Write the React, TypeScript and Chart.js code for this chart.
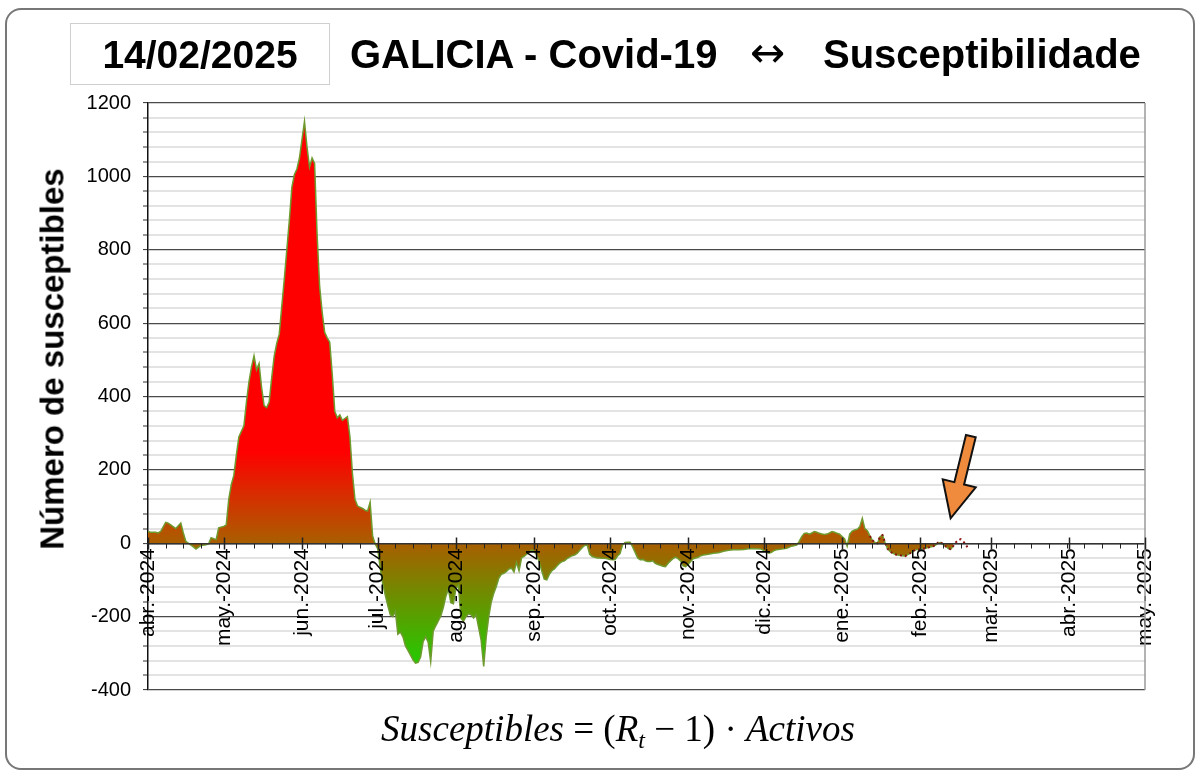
import React, { useEffect, useRef } from "react";
import { Chart, registerables } from "chart.js";
Chart.register(...registerables);

// ---------- DATA ----------
const dates = [
  "2024-04-01","2024-04-02","2024-04-04","2024-04-05","2024-04-06","2024-04-08","2024-04-09","2024-04-10","2024-04-12","2024-04-14","2024-04-15","2024-04-16","2024-04-18","2024-04-19","2024-04-20","2024-04-22","2024-04-24","2024-04-25","2024-04-26","2024-04-28","2024-04-29",
  "2024-05-01","2024-05-02","2024-05-03","2024-05-04","2024-05-05","2024-05-06","2024-05-07","2024-05-08","2024-05-09","2024-05-10","2024-05-11","2024-05-12","2024-05-13","2024-05-14","2024-05-15","2024-05-16","2024-05-17","2024-05-18","2024-05-19","2024-05-20","2024-05-21","2024-05-22","2024-05-23","2024-05-24","2024-05-25","2024-05-26","2024-05-27","2024-05-28","2024-05-29","2024-05-30","2024-05-31",
  "2024-06-01","2024-06-02","2024-06-03","2024-06-04","2024-06-05","2024-06-06","2024-06-07","2024-06-08","2024-06-09","2024-06-10","2024-06-11","2024-06-12","2024-06-13","2024-06-14","2024-06-15","2024-06-16","2024-06-17","2024-06-18","2024-06-19","2024-06-20","2024-06-21","2024-06-22","2024-06-23","2024-06-24","2024-06-25","2024-06-26","2024-06-27","2024-06-28","2024-06-29","2024-06-30",
  "2024-07-01","2024-07-02","2024-07-03","2024-07-04","2024-07-05","2024-07-06","2024-07-07","2024-07-08","2024-07-09","2024-07-10","2024-07-11","2024-07-12","2024-07-13","2024-07-14","2024-07-15","2024-07-16","2024-07-17","2024-07-18","2024-07-19","2024-07-20","2024-07-21","2024-07-22","2024-07-23","2024-07-24","2024-07-25","2024-07-26","2024-07-27","2024-07-28","2024-07-29","2024-07-30","2024-07-31",
  "2024-08-01","2024-08-02","2024-08-03","2024-08-04","2024-08-05","2024-08-06","2024-08-07","2024-08-08","2024-08-09","2024-08-10","2024-08-11","2024-08-12","2024-08-13","2024-08-14","2024-08-15","2024-08-16","2024-08-17","2024-08-18","2024-08-19","2024-08-20","2024-08-21","2024-08-22","2024-08-23","2024-08-24","2024-08-25","2024-08-26","2024-08-27","2024-08-28","2024-08-29","2024-08-30","2024-08-31",
  "2024-09-01","2024-09-02","2024-09-03","2024-09-04","2024-09-05","2024-09-06","2024-09-07","2024-09-08","2024-09-09","2024-09-10","2024-09-11","2024-09-12","2024-09-13","2024-09-14","2024-09-15","2024-09-16","2024-09-17","2024-09-18","2024-09-19","2024-09-20","2024-09-21","2024-09-22","2024-09-23","2024-09-24","2024-09-25","2024-09-26","2024-09-27","2024-09-28","2024-09-29","2024-09-30",
  "2024-10-01","2024-10-02","2024-10-03","2024-10-04","2024-10-05","2024-10-06","2024-10-07","2024-10-08","2024-10-09","2024-10-10","2024-10-11","2024-10-12","2024-10-13","2024-10-14","2024-10-15","2024-10-16","2024-10-17","2024-10-18","2024-10-19","2024-10-20","2024-10-21","2024-10-22","2024-10-23","2024-10-24","2024-10-25","2024-10-26","2024-10-27","2024-10-28","2024-10-29","2024-10-30","2024-10-31",
  "2024-11-01","2024-11-02","2024-11-03","2024-11-04","2024-11-05","2024-11-06","2024-11-07","2024-11-09","2024-11-11","2024-11-13","2024-11-15","2024-11-17","2024-11-19","2024-11-21","2024-11-23","2024-11-25","2024-11-27","2024-11-30",
  "2024-12-01","2024-12-02","2024-12-03","2024-12-04","2024-12-05","2024-12-06","2024-12-08","2024-12-10","2024-12-12","2024-12-14","2024-12-15","2024-12-16","2024-12-17","2024-12-18","2024-12-19","2024-12-20","2024-12-21","2024-12-22","2024-12-23","2024-12-24","2024-12-25","2024-12-26","2024-12-27","2024-12-28","2024-12-29","2024-12-30","2024-12-31",
  "2025-01-01","2025-01-02","2025-01-03","2025-01-04","2025-01-05","2025-01-06","2025-01-07","2025-01-08","2025-01-09","2025-01-10","2025-01-11","2025-01-12","2025-01-13","2025-01-14","2025-01-15","2025-01-16","2025-01-17","2025-01-18","2025-01-19","2025-01-20","2025-01-21","2025-01-22","2025-01-23","2025-01-24","2025-01-25","2025-01-26","2025-01-27","2025-01-28","2025-01-29","2025-01-30","2025-01-31",
  "2025-02-01","2025-02-02","2025-02-03","2025-02-04","2025-02-05","2025-02-06","2025-02-07","2025-02-08","2025-02-09","2025-02-10","2025-02-11","2025-02-12","2025-02-13","2025-02-14",
];
const susceptibles = [
  32,30,30,28,32,57,55,50,40,55,28,5,-5,-10,-16,-6,-4,-2,15,10,42,
  46,50,120,160,185,240,290,305,320,385,440,480,511,473,490,425,375,370,385,450,510,545,570,645,720,800,880,970,1005,1020,1050,
  1100,1150,1080,1025,1050,1035,840,700,630,575,560,548,460,360,342,350,335,340,345,290,190,120,102,98,95,90,88,112,20,-2,
  -15,-68,-110,-141,-170,-195,-200,-186,-248,-242,-255,-280,-292,-305,-318,-327,-325,-310,-268,-255,-270,-323,-240,-225,-212,-198,-175,-145,-125,-162,-165,
  -123,-115,-205,-212,-200,-192,-195,-204,-195,-230,-265,-336,-255,-200,-160,-136,-118,-95,-85,-82,-77,-70,-68,-78,-52,-75,-40,-36,-30,-25,-18,
  -22,-32,-50,-75,-98,-100,-85,-75,-70,-62,-55,-50,-48,-42,-38,-34,-32,-28,-20,-12,-6,-5,-30,-36,-38,-40,-40,-41,-41,-42,
  -44,-45,-45,-35,-28,-5,2,3,3,-10,-25,-40,-45,-44,-48,-50,-50,-48,-55,-58,-60,-63,-64,-55,-48,-42,-38,-42,-48,-62,-64,
  -58,-50,-42,-40,-38,-34,-32,-30,-27,-26,-22,-19,-18,-18,-17,-15,-14,-16,
  -20,-24,-27,-25,-20,-18,-16,-14,-8,-5,5,18,27,28,25,28,32,30,27,25,24,25,28,32,30,27,25,
  18,12,-8,25,33,36,38,45,68,40,34,20,8,2,0,18,22,2,-15,-22,-27,-30,-32,-33,-34,-35,-31,-27,-22,-18,-17,
  -16,-15,-14,-12,-10,-8,-5,0,2,-3,-8,-14,-16,-8,
];
// provisional (dotted) estimate at the end of the series
const provisionalDates = [
  "2025-01-12","2025-01-13","2025-01-14","2025-01-15","2025-01-16","2025-01-17","2025-01-18","2025-01-19","2025-01-20","2025-01-21","2025-01-22","2025-01-23","2025-01-24","2025-01-25","2025-01-26","2025-01-27","2025-01-28","2025-01-29","2025-01-30","2025-01-31",
  "2025-02-01","2025-02-02","2025-02-03","2025-02-04","2025-02-05","2025-02-06","2025-02-07","2025-02-08","2025-02-09","2025-02-10","2025-02-11","2025-02-12","2025-02-13","2025-02-14","2025-02-15","2025-02-16","2025-02-17","2025-02-18","2025-02-19","2025-02-20",
];
const provisionalValues = [
  20,8,2,0,18,22,2,-15,-22,-27,-30,-32,-33,-34,-35,-31,-27,-22,-18,-17,
  -16,-15,-14,-12,-10,-8,-5,2,4,-3,-8,-14,-16,-8,2,9,11,5,-3,-16,
];
const monthTicks = [
  "2024-04-01","2024-05-01","2024-06-01","2024-07-01","2024-08-01","2024-09-01","2024-10-01",
  "2024-11-01","2024-12-01","2025-01-01","2025-02-01","2025-03-01","2025-04-01","2025-05-01",
];
const monthLabels = [
  "abr.-2024","may.-2024","jun.-2024","jul.-2024","ago.-2024","sep.-2024","oct.-2024",
  "nov.-2024","dic.-2024","ene.-2025","feb.-2025","mar.-2025","abr.-2025","may.-2025",
];
const yMin = -400;
const yMax = 1200;
const yMajorStep = 200;
const yMinorStep = 40;
const arrowTip = { date: "2025-02-13", value: 68 };
const arrowTail = { date: "2025-02-21", value: 292 };

const titleDate = "14/02/2025";
const titleMain = "GALICIA - Covid-19";
const titleArrow = "↔";
const titleRight = "Susceptibilidade";
const yTitle = "Número de susceptibles";

// ---------- helpers ----------
const DAY0 = Date.UTC(2024, 3, 1);
const toDay = (s: string) => (Date.parse(s + "T00:00:00Z") - DAY0) / 86400000;
const FONT = "'Liberation Sans', Arial, Helvetica, sans-serif";

const decorPlugin = {
  id: "decor",
  afterDraw(chart: any) {
    const { ctx, chartArea, scales } = chart;
    const xs = scales.x;
    const ys = scales.y;
    const y0 = Math.round(ys.getPixelForValue(0)) + 0.5;
    ctx.save();
    // right frame line
    ctx.strokeStyle = "#9a9a9a";
    ctx.lineWidth = 1.5;
    ctx.beginPath();
    ctx.moveTo(chartArea.right, chartArea.top);
    ctx.lineTo(chartArea.right, chartArea.bottom);
    ctx.stroke();
    // weekly minor ticks + monthly major ticks on the x axis
    ctx.strokeStyle = "#222";
    ctx.lineWidth = 1;
    const maxDay = toDay(monthTicks[monthTicks.length - 1]);
    for (let d = 0; d <= maxDay; d += 7) {
      const px = Math.round(xs.getPixelForValue(d)) + 0.5;
      ctx.beginPath();
      ctx.moveTo(px, y0);
      ctx.lineTo(px, y0 + 5);
      ctx.stroke();
    }
    ctx.lineWidth = 1.5;
    monthTicks.forEach((m) => {
      const px = Math.round(xs.getPixelForValue(toDay(m))) + 0.5;
      ctx.beginPath();
      ctx.moveTo(px, y0 - 6);
      ctx.lineTo(px, y0 + 6);
      ctx.stroke();
    });
    // arrow annotation
    const tx = xs.getPixelForValue(toDay(arrowTip.date));
    const ty = ys.getPixelForValue(arrowTip.value);
    const sx = xs.getPixelForValue(toDay(arrowTail.date));
    const sy = ys.getPixelForValue(arrowTail.value);
    const len = Math.hypot(tx - sx, ty - sy);
    const ux = (tx - sx) / len, uy = (ty - sy) / len;
    const nx = -uy, ny = ux;
    const headLen = 36, headHalf = 17, shaftHalf = 5;
    const bx = tx - ux * headLen, by = ty - uy * headLen;
    ctx.beginPath();
    ctx.moveTo(sx + nx * shaftHalf, sy + ny * shaftHalf);
    ctx.lineTo(bx + nx * shaftHalf, by + ny * shaftHalf);
    ctx.lineTo(bx + nx * headHalf, by + ny * headHalf);
    ctx.lineTo(tx, ty);
    ctx.lineTo(bx - nx * headHalf, by - ny * headHalf);
    ctx.lineTo(bx - nx * shaftHalf, by - ny * shaftHalf);
    ctx.lineTo(sx - nx * shaftHalf, sy - ny * shaftHalf);
    ctx.closePath();
    ctx.fillStyle = "#f08a3c";
    ctx.fill();
    ctx.strokeStyle = "#111";
    ctx.lineWidth = 2;
    ctx.lineJoin = "miter";
    ctx.stroke();
    ctx.restore();
  },
};

export default function App() {
  const canvasRef = useRef<HTMLCanvasElement | null>(null);

  useEffect(() => {
    const canvas = canvasRef.current;
    if (!canvas) return;
    Chart.defaults.font.family = FONT;
    const chart = new Chart(canvas, {
      type: "line",
      data: {
        datasets: [
          {
            label: "Susceptibles",
            data: dates.map((d, i) => ({ x: toDay(d), y: susceptibles[i] })),
            fill: "origin",
            backgroundColor: (c: any) => {
              const ch = c.chart;
              if (!ch.chartArea) return "rgba(0,0,0,0)";
              const y1 = ch.scales.y.getPixelForValue(250);
              const y2 = ch.scales.y.getPixelForValue(-330);
              const g = ch.ctx.createLinearGradient(0, y1, 0, y2);
              g.addColorStop(0, "#ff0000");
              g.addColorStop(0.38, "#b45400");
              g.addColorStop(1, "#22cc00");
              return g;
            },
            borderColor: "#6e9a2e",
            borderWidth: 1.5,
            pointRadius: 0,
            tension: 0,
            order: 2,
          },
          {
            label: "Provisional",
            data: provisionalDates.map((d, i) => ({ x: toDay(d), y: provisionalValues[i] })),
            fill: false,
            borderColor: "#8b1212",
            borderWidth: 2,
            borderDash: [2, 3],
            pointRadius: 0,
            tension: 0,
            order: 1,
          },
        ],
      },
      options: {
        animation: false,
        responsive: false,
        maintainAspectRatio: false,
        layout: { padding: { top: 103, bottom: 88, left: 0, right: 55 } },
        plugins: { legend: { display: false }, tooltip: { enabled: false } },
        scales: {
          x: {
            type: "linear",
            position: { y: 0 },
            min: 0,
            max: toDay(monthTicks[monthTicks.length - 1]),
            afterBuildTicks: (scale: any) => {
              scale.ticks = monthTicks.map((m) => ({ value: toDay(m) }));
            },
            ticks: {
              z: 2,
              autoSkip: false,
              minRotation: 90,
              maxRotation: 90,
              padding: 5,
              color: "#000",
              font: { size: 21, family: FONT },
              callback: (_v: any, i: number) => monthLabels[i],
            },
            grid: { display: false, drawTicks: false },
            border: { display: true, color: "#333", width: 1.5, z: 2 },
          },
          y: {
            type: "linear",
            min: yMin,
            max: yMax,
            afterFit: (scale: any) => {
              scale.width = 148;
            },
            ticks: {
              stepSize: yMinorStep,
              autoSkip: false,
              padding: 12,
              color: "#000",
              font: { size: 20, family: FONT },
              callback: (v: any) => (Math.round(v) % yMajorStep === 0 ? String(v) : ""),
            },
            grid: {
              color: (c: any) => (Math.round(c.tick.value) % yMajorStep === 0 ? "#4a4a4a" : "#e3e3e3"),
              lineWidth: (c: any) => (Math.round(c.tick.value) % yMajorStep === 0 ? 1.2 : 2),
              tickColor: "#333",
              tickWidth: 1,
              tickLength: 5,
            },
            border: { display: true, color: "#111", width: 1.5 },
          },
        },
      } as any,
      plugins: [decorPlugin],
    });
    return () => chart.destroy();
  }, []);

  return (
    <div
      style={{
        position: "absolute",
        left: 0,
        top: 0,
        width: 1200,
        height: 778,
        background: "#fff",
        fontFamily: FONT,
        overflow: "hidden",
      }}
    >
      <div
        style={{
          position: "absolute",
          left: 5,
          top: 8,
          width: 1186,
          height: 758,
          border: "2px solid #777",
          borderRadius: 16,
        }}
      />
      <canvas
        ref={canvasRef}
        width={1200}
        height={778}
        style={{ position: "absolute", left: 0, top: 0, width: 1200, height: 778 }}
      />
      <div
        style={{
          position: "absolute",
          left: 70,
          top: 23,
          width: 258,
          height: 60,
          border: "1px solid #cfcfcf",
        }}
      />
      <div
        style={{
          position: "absolute",
          left: 70,
          top: 35,
          width: 260,
          textAlign: "center",
          fontSize: 39,
          lineHeight: "39px",
          fontWeight: "bold",
          color: "#000",
        }}
      >
        {titleDate}
      </div>
      <div
        style={{
          position: "absolute",
          left: 350,
          top: 34,
          fontSize: 40,
          lineHeight: "40px",
          fontWeight: "bold",
          color: "#000",
          whiteSpace: "nowrap",
        }}
      >
        {titleMain}
      </div>
      <div
        style={{
          position: "absolute",
          left: 750,
          top: 32,
          fontSize: 42,
          lineHeight: "42px",
          color: "#000",
          fontFamily: "'DejaVu Sans', sans-serif",
        }}
      >
        {titleArrow}
      </div>
      <div
        style={{
          position: "absolute",
          left: 823,
          top: 34,
          fontSize: 40,
          lineHeight: "40px",
          fontWeight: "bold",
          color: "#000",
          whiteSpace: "nowrap",
        }}
      >
        {titleRight}
      </div>
      <div
        style={{
          position: "absolute",
          left: 52,
          top: 359,
          transform: "translate(-50%, -50%) rotate(-90deg)",
          fontSize: 33,
          lineHeight: "33px",
          fontWeight: "bold",
          whiteSpace: "nowrap",
          color: "#000",
        }}
      >
        {yTitle}
      </div>
      <div
        style={{
          position: "absolute",
          left: 218,
          top: 707,
          width: 800,
          textAlign: "center",
          fontSize: 37,
          lineHeight: "44px",
          fontFamily: "'Liberation Serif', 'DejaVu Serif', serif",
          color: "#000",
          whiteSpace: "nowrap",
        }}
      >
        <i>Susceptibles</i> = (<i>R</i>
        <sub style={{ fontSize: 24, verticalAlign: "-7px", lineHeight: 0 }}>
          <i>t</i>
        </sub>{" "}
        − 1) · <i>Activos</i>
      </div>
    </div>
  );
}
